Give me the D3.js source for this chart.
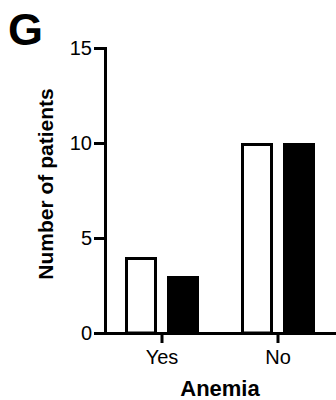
<!DOCTYPE html>
<html>
<head>
<meta charset="utf-8">
<script src="https://cdn.jsdelivr.net/npm/d3@7"></script>
<style>
  html, body { margin: 0; padding: 0; background: #fff; }
  svg { display: block; font-family: "Liberation Sans", Arial, Helvetica, sans-serif; }
</style>
</head>
<body>
<svg id="chart" width="336" height="400"></svg>
<script>
// Anemia status vs. number of patients, two groups per category
const categories = ["Yes", "No"];
const seriesNames = ["Group A", "Group B"];
const groupA = [4, 10];
const groupB = [3, 10];
const yTicks = [0, 5, 10, 15];

const seriesFill = { "Group A": "#fff", "Group B": "#000" };

const svg = d3.select("#chart");

const y = d3.scaleLinear().domain([0, 15]).range([333, 48]);
const x0 = d3.scaleBand().domain(categories).range([104, 336]).padding(0);
const x1 = d3.scaleBand().domain(seriesNames).range([-37, 37]).paddingInner(10 / 42).paddingOuter(0);

const rows = categories.map((c, i) => ({
  category: c,
  values: [
    { series: "Group A", value: groupA[i] },
    { series: "Group B", value: groupB[i] }
  ]
}));

// bars
const sw = 3;
const groups = svg.append("g").selectAll("g")
  .data(rows).join("g")
  .attr("transform", d => `translate(${x0(d.category) + x0.bandwidth() / 2},0)`);

groups.selectAll("rect")
  .data(d => d.values).join("rect")
  .attr("x", d => x1(d.series) + sw / 2)
  .attr("width", x1.bandwidth() - sw)
  .attr("y", d => y(d.value) + sw / 2)
  .attr("height", d => y(0) - y(d.value) - sw / 2)
  .attr("fill", d => seriesFill[d.series])
  .attr("stroke", "#000")
  .attr("stroke-width", sw);

// y axis
const yAxis = svg.append("g")
  .attr("transform", "translate(105,0)")
  .call(d3.axisLeft(y).tickValues(yTicks).tickSize(11).tickSizeOuter(0).tickPadding(2));

// x axis
const xAxis = svg.append("g")
  .attr("transform", "translate(0,333)")
  .call(d3.axisBottom(x0).tickSize(10).tickSizeOuter(0).tickPadding(7));

[yAxis, xAxis].forEach(a => {
  a.select(".domain").attr("stroke", "#000").attr("stroke-width", sw).attr("stroke-linecap", "square");
  a.selectAll(".tick line").attr("stroke", "#000").attr("stroke-width", sw);
  a.selectAll(".tick text").attr("fill", "#000").style("font-size", "20px")
    .style("font-family", "'Liberation Sans', Arial, sans-serif");
});

// axis titles
svg.append("text")
  .attr("x", 220).attr("y", 396)
  .attr("text-anchor", "middle")
  .style("font-size", "22px").style("font-weight", "bold")
  .text("Anemia");

svg.append("text")
  .attr("transform", "translate(53,184) rotate(-90)")
  .attr("text-anchor", "middle")
  .style("font-size", "21px").style("font-weight", "bold")
  .text("Number of patients");

// panel letter
svg.append("text")
  .attr("x", 8).attr("y", 45)
  .style("font-size", "45px").style("font-weight", "bold")
  .text("G");
</script>
</body>
</html>
